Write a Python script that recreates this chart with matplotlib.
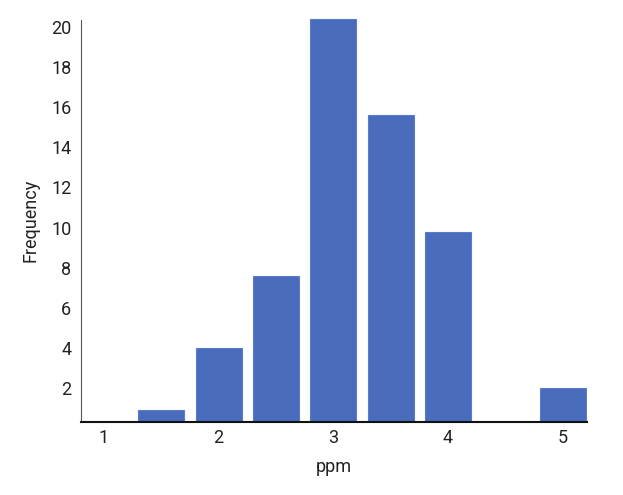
import matplotlib
matplotlib.use('Agg')
import matplotlib.pyplot as plt

# histogram bins (ppm) and counts
ppm = [1.5, 2.0, 2.5, 3.0, 3.5, 4.0, 5.0]
frequency = [0.9, 4.0, 7.6, 20.4, 15.6, 9.8, 2.0]
x_ticks = [1, 2, 3, 4, 5]
y_ticks = [2, 4, 6, 8, 10, 12, 14, 16, 18, 20]

plt.rcParams['font.family'] = ['Roboto', 'DejaVu Sans']

fig = plt.figure(figsize=(6.23, 4.95), dpi=100)
ax = fig.add_axes([0.130, 0.1475, 0.812, 0.816])

ax.bar(ppm, frequency, width=0.4, color='#4a6cbd', edgecolor='#5b7cc8',
       linewidth=0.8)

ax.set_xlim(0.80, 5.21)
ax.set_ylim(0.3, 20.45)
ax.set_xticks(x_ticks)
ax.set_yticks(y_ticks)
ax.tick_params(length=0, labelsize=13, colors='#222222')
ax.tick_params(axis='x', pad=5)
ax.tick_params(axis='y', pad=7)

for side in ['top', 'right']:
    ax.spines[side].set_visible(False)
ax.spines['left'].set_color('#555555')
ax.spines['left'].set_bounds(0.3, 20.34)
ax.spines['bottom'].set_color('#111111')
ax.spines['bottom'].set_linewidth(1.5)

ax.set_xlabel('ppm', fontsize=13, color='#222222', labelpad=8)
ax.set_ylabel('Frequency', fontsize=13, color='#222222', labelpad=8)

fig.savefig('out.png', dpi=100)
